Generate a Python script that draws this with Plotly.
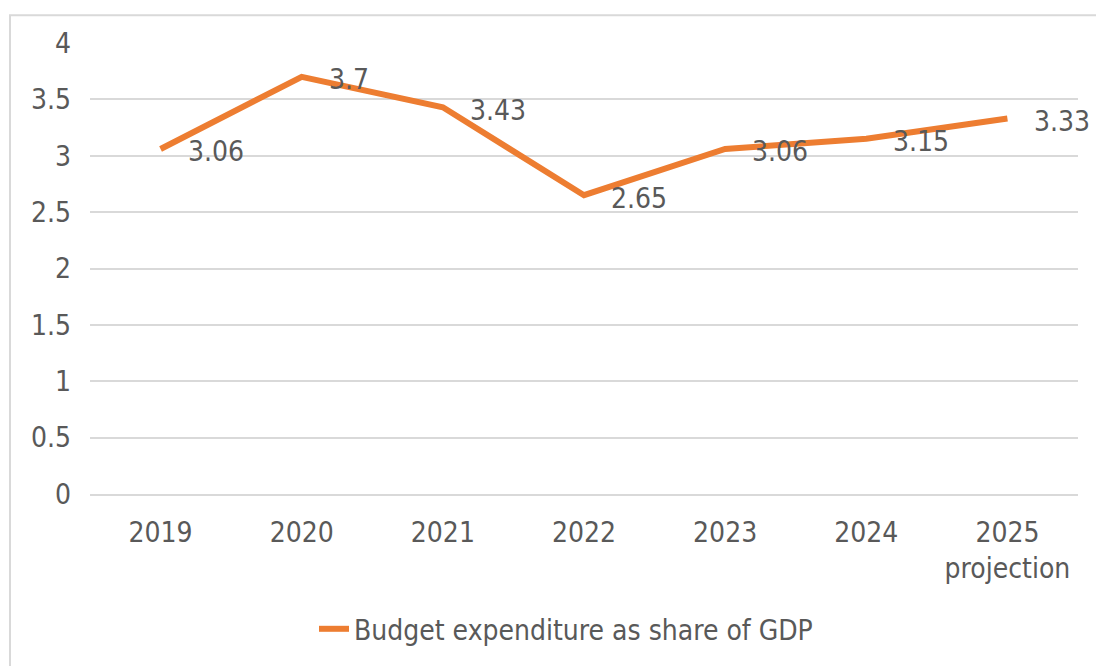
import plotly.graph_objects as go

categories = ["2019", "2020", "2021", "2022", "2023", "2024", "2025<br>projection"]
values = [3.06, 3.7, 3.43, 2.65, 3.06, 3.15, 3.33]
series_name = "Budget expenditure as share of GDP"
y_ticks = [0, 0.5, 1, 1.5, 2, 2.5, 3, 3.5, 4]
y_tick_labels = ["0", "0.5", "1", "1.5", "2", "2.5", "3", "3.5", "4"]

FONT = "DejaVu Sans Condensed"
FS = 28
TXT = "#595959"
ORANGE = "#ED7D31"
GRID = "#D9D9D9"

fig = go.Figure()
fig.add_trace(go.Scatter(
    x=categories, y=values, mode="lines", name=series_name,
    line=dict(color=ORANGE, width=6),
    hoverinfo="skip",
))

for i, v in enumerate(values):
    fig.add_annotation(
        x=i, y=v, text=f"{v:g}", showarrow=False,
        xanchor="left", yanchor="middle", xshift=25, yshift=-3,
        font=dict(family=FONT, size=FS, color=TXT),
    )

W, H = 1096, 666
L, R, T, B = 90, 18, 43, 169
pw, ph = W - L - R, H - T - B

def px(x):
    return (x - L) / pw

def py(y):
    return (H - B - y) / ph

fig.add_shape(type="rect", xref="paper", yref="paper",
              x0=px(10), x1=px(1104), y0=py(674), y1=py(15),
              line=dict(color=GRID, width=2), fillcolor="rgba(0,0,0,0)", layer="below")

fig.update_layout(
    width=W, height=H,
    margin=dict(l=L, r=R, t=T, b=B),
    paper_bgcolor="white", plot_bgcolor="white",
    font=dict(family=FONT, size=FS, color=TXT),
    showlegend=True,
    legend=dict(orientation="h", x=px(566), xanchor="center", y=py(633), yanchor="middle",
                font=dict(family=FONT, size=FS, color=TXT), bgcolor="rgba(0,0,0,0)"),
    xaxis=dict(type="category", range=[-0.5, 6.5], showgrid=False, showline=True,
               linecolor=GRID, linewidth=2, ticks="", ticklabelstandoff=12,
               tickfont=dict(family=FONT, size=FS, color=TXT), fixedrange=True),
    yaxis=dict(range=[0, 4], tickvals=y_ticks, ticktext=y_tick_labels, showgrid=True,
               gridcolor=GRID, gridwidth=2, zeroline=False, showline=False, ticks="",
               ticklabelstandoff=18, tickfont=dict(family=FONT, size=FS, color=TXT),
               fixedrange=True),
)

fig.write_html("out.html")
